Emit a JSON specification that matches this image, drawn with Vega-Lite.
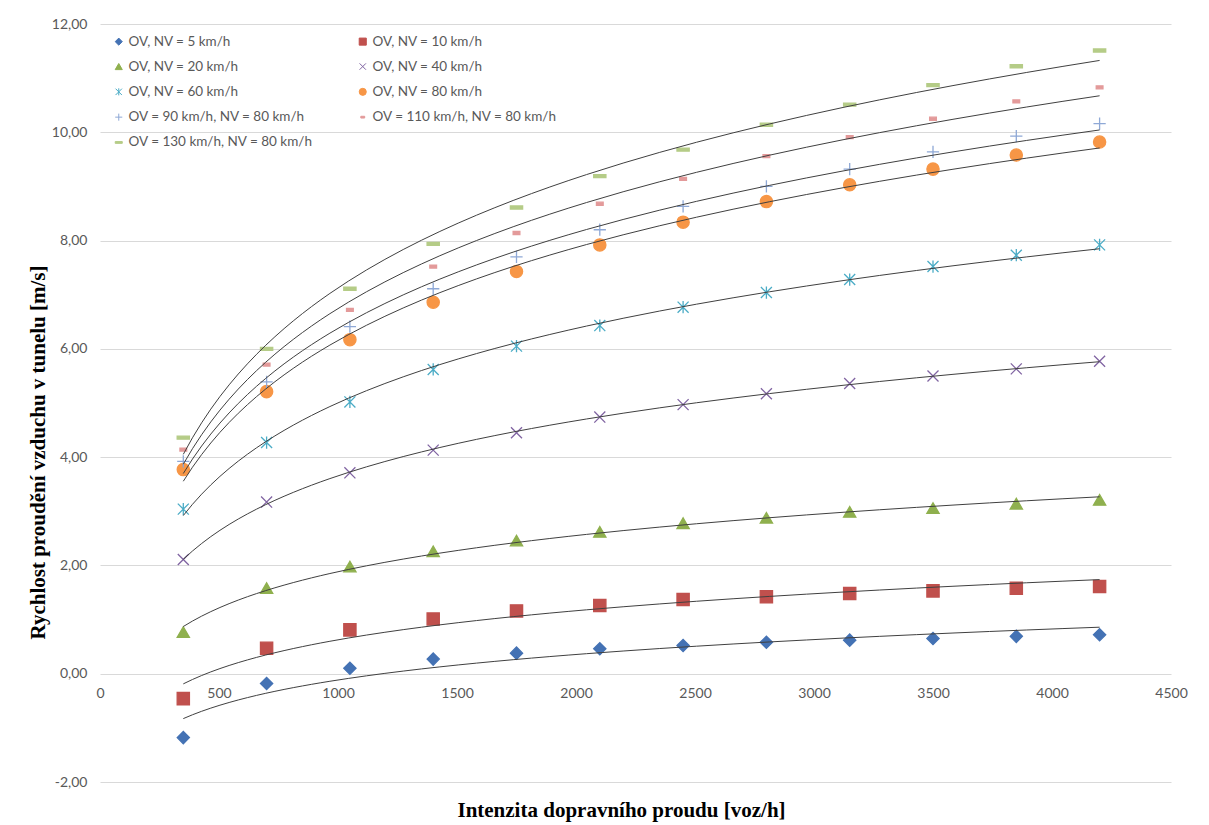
{
  "$schema": "https://vega.github.io/schema/vega-lite/v6.json",
  "width": 1071,
  "height": 758,
  "autosize": "none",
  "padding": {"left": 100, "top": 24, "right": 38, "bottom": 43},
  "background": "#ffffff",
  "config": {
    "view": {"stroke": null},
    "font": "Lato"
  },
  "data": {
    "values": [
      {"s": "OV, NV = 5 km/h", "x": 350, "v": -1.18},
      {"s": "OV, NV = 5 km/h", "x": 700, "v": -0.18},
      {"s": "OV, NV = 5 km/h", "x": 1050, "v": 0.10},
      {"s": "OV, NV = 5 km/h", "x": 1400, "v": 0.27},
      {"s": "OV, NV = 5 km/h", "x": 1750, "v": 0.38},
      {"s": "OV, NV = 5 km/h", "x": 2100, "v": 0.46},
      {"s": "OV, NV = 5 km/h", "x": 2450, "v": 0.52},
      {"s": "OV, NV = 5 km/h", "x": 2800, "v": 0.58},
      {"s": "OV, NV = 5 km/h", "x": 3150, "v": 0.62},
      {"s": "OV, NV = 5 km/h", "x": 3500, "v": 0.65},
      {"s": "OV, NV = 5 km/h", "x": 3850, "v": 0.69},
      {"s": "OV, NV = 5 km/h", "x": 4200, "v": 0.72},
      {"s": "OV, NV = 10 km/h", "x": 350, "v": -0.46},
      {"s": "OV, NV = 10 km/h", "x": 700, "v": 0.47},
      {"s": "OV, NV = 10 km/h", "x": 1050, "v": 0.81},
      {"s": "OV, NV = 10 km/h", "x": 1400, "v": 1.01},
      {"s": "OV, NV = 10 km/h", "x": 1750, "v": 1.16},
      {"s": "OV, NV = 10 km/h", "x": 2100, "v": 1.26},
      {"s": "OV, NV = 10 km/h", "x": 2450, "v": 1.37},
      {"s": "OV, NV = 10 km/h", "x": 2800, "v": 1.42},
      {"s": "OV, NV = 10 km/h", "x": 3150, "v": 1.48},
      {"s": "OV, NV = 10 km/h", "x": 3500, "v": 1.53},
      {"s": "OV, NV = 10 km/h", "x": 3850, "v": 1.58},
      {"s": "OV, NV = 10 km/h", "x": 4200, "v": 1.61},
      {"s": "OV, NV = 20 km/h", "x": 350, "v": 0.77},
      {"s": "OV, NV = 20 km/h", "x": 700, "v": 1.58},
      {"s": "OV, NV = 20 km/h", "x": 1050, "v": 1.98},
      {"s": "OV, NV = 20 km/h", "x": 1400, "v": 2.26},
      {"s": "OV, NV = 20 km/h", "x": 1750, "v": 2.46},
      {"s": "OV, NV = 20 km/h", "x": 2100, "v": 2.62},
      {"s": "OV, NV = 20 km/h", "x": 2450, "v": 2.78},
      {"s": "OV, NV = 20 km/h", "x": 2800, "v": 2.88},
      {"s": "OV, NV = 20 km/h", "x": 3150, "v": 2.99},
      {"s": "OV, NV = 20 km/h", "x": 3500, "v": 3.06},
      {"s": "OV, NV = 20 km/h", "x": 3850, "v": 3.14},
      {"s": "OV, NV = 20 km/h", "x": 4200, "v": 3.21},
      {"s": "OV, NV = 40 km/h", "x": 350, "v": 2.11},
      {"s": "OV, NV = 40 km/h", "x": 700, "v": 3.17},
      {"s": "OV, NV = 40 km/h", "x": 1050, "v": 3.71},
      {"s": "OV, NV = 40 km/h", "x": 1400, "v": 4.13},
      {"s": "OV, NV = 40 km/h", "x": 1750, "v": 4.45},
      {"s": "OV, NV = 40 km/h", "x": 2100, "v": 4.74},
      {"s": "OV, NV = 40 km/h", "x": 2450, "v": 4.97},
      {"s": "OV, NV = 40 km/h", "x": 2800, "v": 5.17},
      {"s": "OV, NV = 40 km/h", "x": 3150, "v": 5.36},
      {"s": "OV, NV = 40 km/h", "x": 3500, "v": 5.50},
      {"s": "OV, NV = 40 km/h", "x": 3850, "v": 5.63},
      {"s": "OV, NV = 40 km/h", "x": 4200, "v": 5.77},
      {"s": "OV, NV = 60 km/h", "x": 350, "v": 3.04},
      {"s": "OV, NV = 60 km/h", "x": 700, "v": 4.27},
      {"s": "OV, NV = 60 km/h", "x": 1050, "v": 5.02},
      {"s": "OV, NV = 60 km/h", "x": 1400, "v": 5.62},
      {"s": "OV, NV = 60 km/h", "x": 1750, "v": 6.05},
      {"s": "OV, NV = 60 km/h", "x": 2100, "v": 6.43},
      {"s": "OV, NV = 60 km/h", "x": 2450, "v": 6.77},
      {"s": "OV, NV = 60 km/h", "x": 2800, "v": 7.04},
      {"s": "OV, NV = 60 km/h", "x": 3150, "v": 7.28},
      {"s": "OV, NV = 60 km/h", "x": 3500, "v": 7.52},
      {"s": "OV, NV = 60 km/h", "x": 3850, "v": 7.73},
      {"s": "OV, NV = 60 km/h", "x": 4200, "v": 7.92},
      {"s": "OV, NV = 80 km/h", "x": 350, "v": 3.77},
      {"s": "OV, NV = 80 km/h", "x": 700, "v": 5.21},
      {"s": "OV, NV = 80 km/h", "x": 1050, "v": 6.17},
      {"s": "OV, NV = 80 km/h", "x": 1400, "v": 6.86},
      {"s": "OV, NV = 80 km/h", "x": 1750, "v": 7.43},
      {"s": "OV, NV = 80 km/h", "x": 2100, "v": 7.92},
      {"s": "OV, NV = 80 km/h", "x": 2450, "v": 8.34},
      {"s": "OV, NV = 80 km/h", "x": 2800, "v": 8.72},
      {"s": "OV, NV = 80 km/h", "x": 3150, "v": 9.03},
      {"s": "OV, NV = 80 km/h", "x": 3500, "v": 9.32},
      {"s": "OV, NV = 80 km/h", "x": 3850, "v": 9.58},
      {"s": "OV, NV = 80 km/h", "x": 4200, "v": 9.82},
      {"s": "OV = 90 km/h, NV = 80 km/h", "x": 350, "v": 3.92},
      {"s": "OV = 90 km/h, NV = 80 km/h", "x": 700, "v": 5.39},
      {"s": "OV = 90 km/h, NV = 80 km/h", "x": 1050, "v": 6.41},
      {"s": "OV = 90 km/h, NV = 80 km/h", "x": 1400, "v": 7.11},
      {"s": "OV = 90 km/h, NV = 80 km/h", "x": 1750, "v": 7.70},
      {"s": "OV = 90 km/h, NV = 80 km/h", "x": 2100, "v": 8.20},
      {"s": "OV = 90 km/h, NV = 80 km/h", "x": 2450, "v": 8.63},
      {"s": "OV = 90 km/h, NV = 80 km/h", "x": 2800, "v": 9.00},
      {"s": "OV = 90 km/h, NV = 80 km/h", "x": 3150, "v": 9.32},
      {"s": "OV = 90 km/h, NV = 80 km/h", "x": 3500, "v": 9.64},
      {"s": "OV = 90 km/h, NV = 80 km/h", "x": 3850, "v": 9.93},
      {"s": "OV = 90 km/h, NV = 80 km/h", "x": 4200, "v": 10.16},
      {"s": "OV = 110 km/h, NV = 80 km/h", "x": 350, "v": 4.14},
      {"s": "OV = 110 km/h, NV = 80 km/h", "x": 700, "v": 5.71},
      {"s": "OV = 110 km/h, NV = 80 km/h", "x": 1050, "v": 6.72},
      {"s": "OV = 110 km/h, NV = 80 km/h", "x": 1400, "v": 7.52},
      {"s": "OV = 110 km/h, NV = 80 km/h", "x": 1750, "v": 8.14},
      {"s": "OV = 110 km/h, NV = 80 km/h", "x": 2100, "v": 8.68},
      {"s": "OV = 110 km/h, NV = 80 km/h", "x": 2450, "v": 9.14},
      {"s": "OV = 110 km/h, NV = 80 km/h", "x": 2800, "v": 9.56},
      {"s": "OV = 110 km/h, NV = 80 km/h", "x": 3150, "v": 9.91},
      {"s": "OV = 110 km/h, NV = 80 km/h", "x": 3500, "v": 10.25},
      {"s": "OV = 110 km/h, NV = 80 km/h", "x": 3850, "v": 10.57},
      {"s": "OV = 110 km/h, NV = 80 km/h", "x": 4200, "v": 10.83},
      {"s": "OV = 130 km/h, NV = 80 km/h", "x": 350, "v": 4.36},
      {"s": "OV = 130 km/h, NV = 80 km/h", "x": 700, "v": 6.00},
      {"s": "OV = 130 km/h, NV = 80 km/h", "x": 1050, "v": 7.11},
      {"s": "OV = 130 km/h, NV = 80 km/h", "x": 1400, "v": 7.94},
      {"s": "OV = 130 km/h, NV = 80 km/h", "x": 1750, "v": 8.61},
      {"s": "OV = 130 km/h, NV = 80 km/h", "x": 2100, "v": 9.19},
      {"s": "OV = 130 km/h, NV = 80 km/h", "x": 2450, "v": 9.68},
      {"s": "OV = 130 km/h, NV = 80 km/h", "x": 2800, "v": 10.14},
      {"s": "OV = 130 km/h, NV = 80 km/h", "x": 3150, "v": 10.51},
      {"s": "OV = 130 km/h, NV = 80 km/h", "x": 3500, "v": 10.87},
      {"s": "OV = 130 km/h, NV = 80 km/h", "x": 3850, "v": 11.22},
      {"s": "OV = 130 km/h, NV = 80 km/h", "x": 4200, "v": 11.51}
    ]
  },
  "layer": [
    {
      "mark": {"type": "point", "filled": true, "opacity": 1, "size": 150, "strokeWidth": 1.3},
      "encoding": {
        "x": {
          "field": "x", "type": "quantitative",
          "scale": {"domain": [0, 4500], "nice": false, "zero": false},
          "axis": {
            "values": [0, 500, 1000, 1500, 2000, 2500, 3000, 3500, 4000, 4500],
            "format": "d",
            "grid": false, "domain": false, "ticks": false,
            "offset": -108,
            "labelFlush": false,
            "labelPadding": 12, "labelBaseline": "top",
            "labelFont": "Lato", "labelFontSize": 14, "labelColor": "#595959",
            "title": "Intenzita dopravního proudu [voz/h]",
            "titleFont": "Liberation Serif", "titleFontSize": 21, "titleFontWeight": "bold", "titleColor": "#000000",
            "titleX": 521, "titleY": 136, "titleAlign": "center", "titleBaseline": "middle"
          }
        },
        "y": {
          "field": "v", "type": "quantitative",
          "scale": {"domain": [-2, 12], "nice": false, "zero": false},
          "axis": {
            "values": [-2, 0, 2, 4, 6, 8, 10, 12],
            "labelExpr": "replace(replace(format(datum.value, '.2f'), '.', ','), '\u2212', '-')",
            "grid": true, "gridColor": "#D9D9D9", "gridWidth": 1,
            "domain": false, "ticks": false,
            "labelPadding": 13, "labelFlush": false,
            "labelFont": "Lato", "labelFontSize": 14, "labelColor": "#595959",
            "title": "Rychlost proudění vzduchu v tunelu [m/s]",
            "titleFont": "Liberation Serif", "titleFontSize": 21, "titleFontWeight": "bold", "titleColor": "#000000",
            "titleX": -62, "titleY": 428, "titleAngle": -90, "titleAlign": "center", "titleBaseline": "middle"
          }
        },
        "color": {
          "field": "s", "type": "nominal", "sort": null,
          "scale": {
            "domain": ["OV, NV = 5 km/h", "OV, NV = 20 km/h", "OV, NV = 60 km/h", "OV = 90 km/h, NV = 80 km/h", "OV = 130 km/h, NV = 80 km/h", "OV, NV = 10 km/h", "OV, NV = 40 km/h", "OV, NV = 80 km/h", "OV = 110 km/h, NV = 80 km/h"],
            "range": ["#4472B4", "#8FB04E", "#4BACC6", "#8EA8D6", "#B5CC87", "#C0504D", "#8064A2", "#F79646", "#E39A9A"]
          },
          "legend": {
            "orient": "none", "legendX": 12, "legendY": 10.5,
            "columns": 2, "columnPadding": 43, "rowPadding": 10.3,
            "title": null, "padding": 0,
            "symbolSize": 50, "symbolStrokeWidth": 1,
            "labelFont": "Lato", "labelFontSize": 13.5, "labelColor": "#595959", "labelOffset": 3, "labelLimit": 300
          }
        },
        "stroke": {
          "field": "s", "type": "nominal", "sort": null,
          "scale": {
            "domain": ["OV, NV = 5 km/h", "OV, NV = 20 km/h", "OV, NV = 60 km/h", "OV = 90 km/h, NV = 80 km/h", "OV = 130 km/h, NV = 80 km/h", "OV, NV = 10 km/h", "OV, NV = 40 km/h", "OV, NV = 80 km/h", "OV = 110 km/h, NV = 80 km/h"],
            "range": ["#4472B4", "#8FB04E", "#4BACC6", "#8EA8D6", "#B5CC87", "#C0504D", "#8064A2", "#F79646", "#E39A9A"]
          }
        },
        "shape": {
          "field": "s", "type": "nominal", "sort": null,
          "scale": {
            "domain": ["OV, NV = 5 km/h", "OV, NV = 20 km/h", "OV, NV = 60 km/h", "OV = 90 km/h, NV = 80 km/h", "OV = 130 km/h, NV = 80 km/h", "OV, NV = 10 km/h", "OV, NV = 40 km/h", "OV, NV = 80 km/h", "OV = 110 km/h, NV = 80 km/h"],
            "range": [
              "diamond",
              "triangle-up",
              "M-0.9,-0.9L0.9,0.9M-0.9,0.9L0.9,-0.9M0,-1L0,1",
              "M-1,0L1,0M0,-1L0,1",
              "M-1,-0.25L1,-0.25L1,0.25L-1,0.25Z",
              "square",
              "M-0.9,-0.9L0.9,0.9M-0.9,0.9L0.9,-0.9",
              "circle",
              "M-0.55,-0.25L0.55,-0.25L0.55,0.25L-0.55,0.25Z"
            ]
          }
        }
      }
    },
    {
      "transform": [{"regression": "v", "on": "x", "groupby": ["s"], "method": "log"}],
      "mark": {"type": "line", "color": "#404040", "strokeWidth": 1},
      "encoding": {
        "x": {"field": "x", "type": "quantitative"},
        "y": {"field": "v", "type": "quantitative"},
        "detail": {"field": "s", "type": "nominal"}
      }
    }
  ]
}
